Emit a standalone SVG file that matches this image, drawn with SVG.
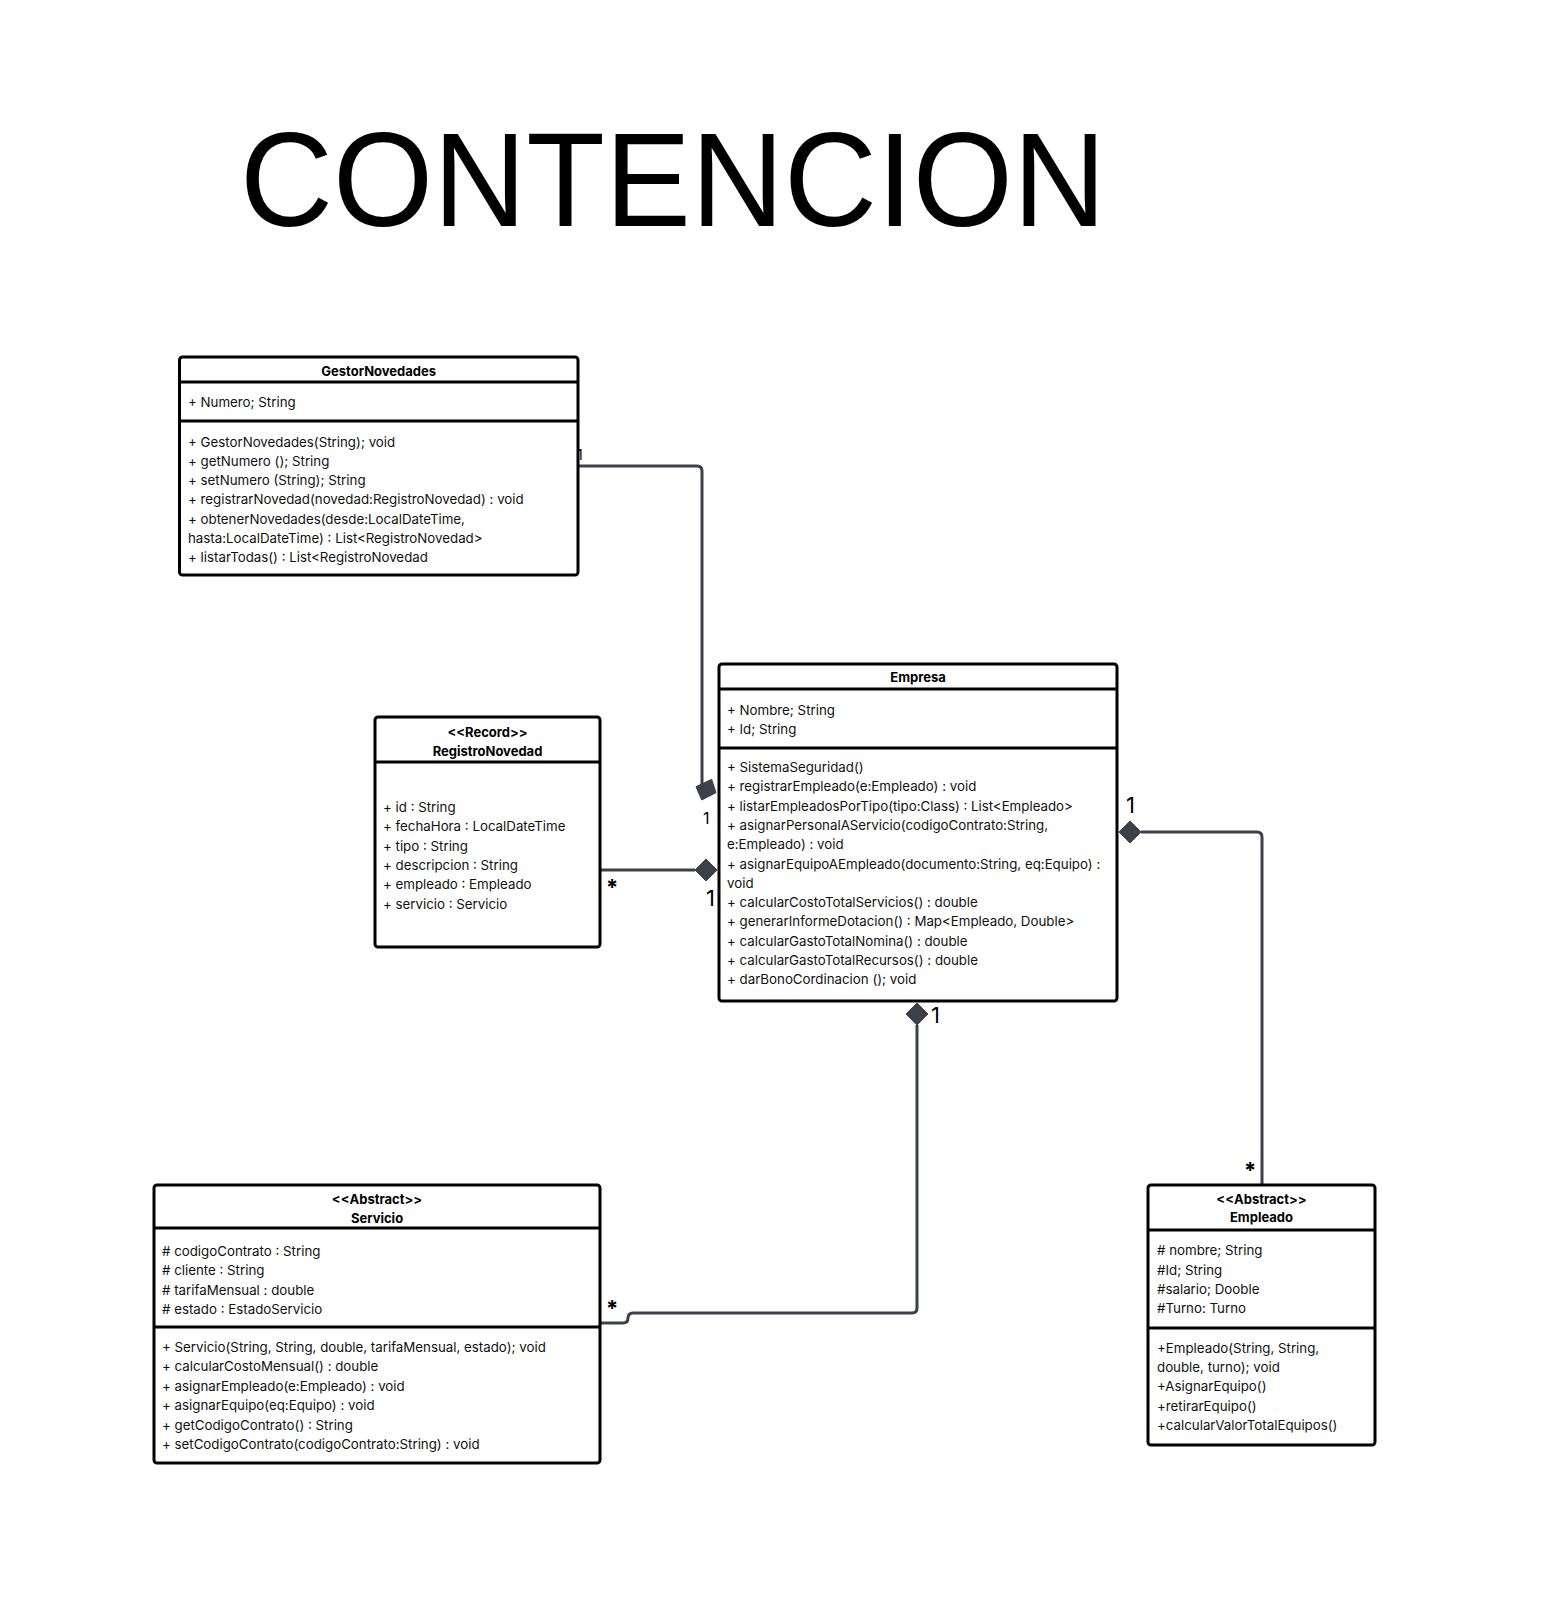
<svg xmlns="http://www.w3.org/2000/svg" width="1566" height="1600" viewBox="0 0 1566 1600">
<style>
.box{fill:#fff;stroke:#000;stroke-width:3}
.sep{stroke:#000;stroke-width:3}
.t{font-family:Inter,"Liberation Sans",sans-serif;font-size:13.3px;fill:#111}
.h{font-family:Inter,"Liberation Sans",sans-serif;font-size:13px;font-weight:bold;fill:#000;text-anchor:middle}
.edge{fill:none;stroke:#3b4049;stroke-width:3}
.dia{fill:#3b4049;stroke:#3b4049;stroke-width:1}
.lbl{font-family:Inter,"Liberation Sans",sans-serif;fill:#000}
</style>
<rect width="1566" height="1600" fill="#fff"/>
<text x="240" y="226" font-family="'Liberation Sans',Arial,sans-serif" font-size="134" textLength="866" lengthAdjust="spacingAndGlyphs" fill="#000">CONTENCION</text>

<g id="connectors">
<path class="edge" d="M578,466 H697 Q702,466 702,471 V785"/>
<polygon class="dia" points="696,786.7 711.7,779.3 716,792.7 701.7,800"/>
<path class="edge" d="M600,870 H695"/>
<polygon class="dia" points="695,870 706,859 717,870 706,881"/>
<path class="edge" d="M1141,832 H1257 Q1262,832 1262,837 V1185"/>
<polygon class="dia" points="1119,832 1130,821 1141,832 1130,843"/>
<path class="edge" d="M917,1025 V1308 Q917,1313 912,1313 H633 Q628,1313 628,1318 Q628,1323 623,1323 H601"/>
<polygon class="dia" points="917,1003 928,1014 917,1025 906,1014"/>
<text class="lbl" x="577" y="460" font-size="14">1</text>
<text class="lbl" x="703" y="824" font-size="16">1</text>
<text class="lbl" x="606" y="895" font-size="22" font-weight="bold">*</text>
<text class="lbl" x="706" y="906" font-size="22">1</text>
<text class="lbl" x="1126" y="813" font-size="22">1</text>
<text class="lbl" x="1244" y="1178" font-size="22" font-weight="bold">*</text>
<text class="lbl" x="931" y="1023" font-size="22">1</text>
<text class="lbl" x="606" y="1316" font-size="22" font-weight="bold">*</text>
</g>

<g id="GestorNovedades">
<rect class="box" x="179.5" y="357" width="398.5" height="218" rx="3"/>
<line class="sep" x1="179.5" y1="382" x2="578" y2="382"/>
<line class="sep" x1="179.5" y1="421" x2="578" y2="421"/>
<text class="h" x="378.7" y="376">GestorNovedades</text>
<text class="t" x="188" y="407">+ Numero; String</text>
<text class="t" x="188" y="446.7">+ GestorNovedades(String); void</text>
<text class="t" x="188" y="466">+ getNumero (); String</text>
<text class="t" x="188" y="485.2">+ setNumero (String); String</text>
<text class="t" x="188" y="504.4">+ registrarNovedad(novedad:RegistroNovedad) : void</text>
<text class="t" x="188" y="523.6">+ obtenerNovedades(desde:LocalDateTime,</text>
<text class="t" x="188" y="542.8">hasta:LocalDateTime) : List&lt;RegistroNovedad&gt;</text>
<text class="t" x="188" y="562">+ listarTodas() : List&lt;RegistroNovedad</text>
</g>

<g id="RegistroNovedad">
<rect class="box" x="375" y="717" width="225" height="230" rx="3"/>
<line class="sep" x1="375" y1="762" x2="600" y2="762"/>
<text class="h" x="487.5" y="737">&lt;&lt;Record&gt;&gt;</text>
<text class="h" x="487.5" y="756">RegistroNovedad</text>
<text class="t" x="383" y="812">+ id : String</text>
<text class="t" x="383" y="831.3">+ fechaHora : LocalDateTime</text>
<text class="t" x="383" y="850.6">+ tipo : String</text>
<text class="t" x="383" y="869.9">+ descripcion : String</text>
<text class="t" x="383" y="889.2">+ empleado : Empleado</text>
<text class="t" x="383" y="908.5">+ servicio : Servicio</text>
</g>

<g id="Empresa">
<rect class="box" x="719" y="664" width="398" height="337" rx="3"/>
<line class="sep" x1="719" y1="689" x2="1117" y2="689"/>
<line class="sep" x1="719" y1="748" x2="1117" y2="748"/>
<text class="h" x="918" y="682">Empresa</text>
<text class="t" x="727" y="715">+ Nombre; String</text>
<text class="t" x="727" y="734">+ Id; String</text>
<text class="t" x="727" y="772">+ SistemaSeguridad()</text>
<text class="t" x="727" y="791.3">+ registrarEmpleado(e:Empleado) : void</text>
<text class="t" x="727" y="810.6">+ listarEmpleadosPorTipo(tipo:Class) : List&lt;Empleado&gt;</text>
<text class="t" x="727" y="829.9">+ asignarPersonalAServicio(codigoContrato:String,</text>
<text class="t" x="727" y="849.2">e:Empleado) : void</text>
<text class="t" x="727" y="868.5">+ asignarEquipoAEmpleado(documento:String, eq:Equipo) :</text>
<text class="t" x="727" y="887.8">void</text>
<text class="t" x="727" y="907.1">+ calcularCostoTotalServicios() : double</text>
<text class="t" x="727" y="926.4">+ generarInformeDotacion() : Map&lt;Empleado, Double&gt;</text>
<text class="t" x="727" y="945.7">+ calcularGastoTotalNomina() : double</text>
<text class="t" x="727" y="965">+ calcularGastoTotalRecursos() : double</text>
<text class="t" x="727" y="984.3">+ darBonoCordinacion (); void</text>
</g>

<g id="Servicio">
<rect class="box" x="154" y="1185" width="446" height="278" rx="3"/>
<line class="sep" x1="154" y1="1228" x2="600" y2="1228"/>
<line class="sep" x1="154" y1="1327" x2="600" y2="1327"/>
<text class="h" x="377" y="1204">&lt;&lt;Abstract&gt;&gt;</text>
<text class="h" x="377" y="1223">Servicio</text>
<text class="t" x="162" y="1256"># codigoContrato : String</text>
<text class="t" x="162" y="1275.3"># cliente : String</text>
<text class="t" x="162" y="1294.6"># tarifaMensual : double</text>
<text class="t" x="162" y="1314"># estado : EstadoServicio</text>
<text class="t" x="162" y="1352">+ Servicio(String, String, double, tarifaMensual, estado); void</text>
<text class="t" x="162" y="1371.4">+ calcularCostoMensual() : double</text>
<text class="t" x="162" y="1390.8">+ asignarEmpleado(e:Empleado) : void</text>
<text class="t" x="162" y="1410.2">+ asignarEquipo(eq:Equipo) : void</text>
<text class="t" x="162" y="1429.6">+ getCodigoContrato() : String</text>
<text class="t" x="162" y="1449">+ setCodigoContrato(codigoContrato:String) : void</text>
</g>

<g id="Empleado">
<rect class="box" x="1148" y="1185" width="227" height="260" rx="3"/>
<line class="sep" x1="1148" y1="1230" x2="1375" y2="1230"/>
<line class="sep" x1="1148" y1="1328" x2="1375" y2="1328"/>
<text class="h" x="1261.5" y="1204">&lt;&lt;Abstract&gt;&gt;</text>
<text class="h" x="1261.5" y="1222">Empleado</text>
<text class="t" x="1157" y="1255"># nombre; String</text>
<text class="t" x="1157" y="1274.5">#Id; String</text>
<text class="t" x="1157" y="1294">#salario; Dooble</text>
<text class="t" x="1157" y="1313">#Turno: Turno</text>
<text class="t" x="1157" y="1353">+Empleado(String, String,</text>
<text class="t" x="1157" y="1372.2">double, turno); void</text>
<text class="t" x="1157" y="1391.4">+AsignarEquipo()</text>
<text class="t" x="1157" y="1410.6">+retirarEquipo()</text>
<text class="t" x="1157" y="1429.8">+calcularValorTotalEquipos()</text>
</g>
</svg>
